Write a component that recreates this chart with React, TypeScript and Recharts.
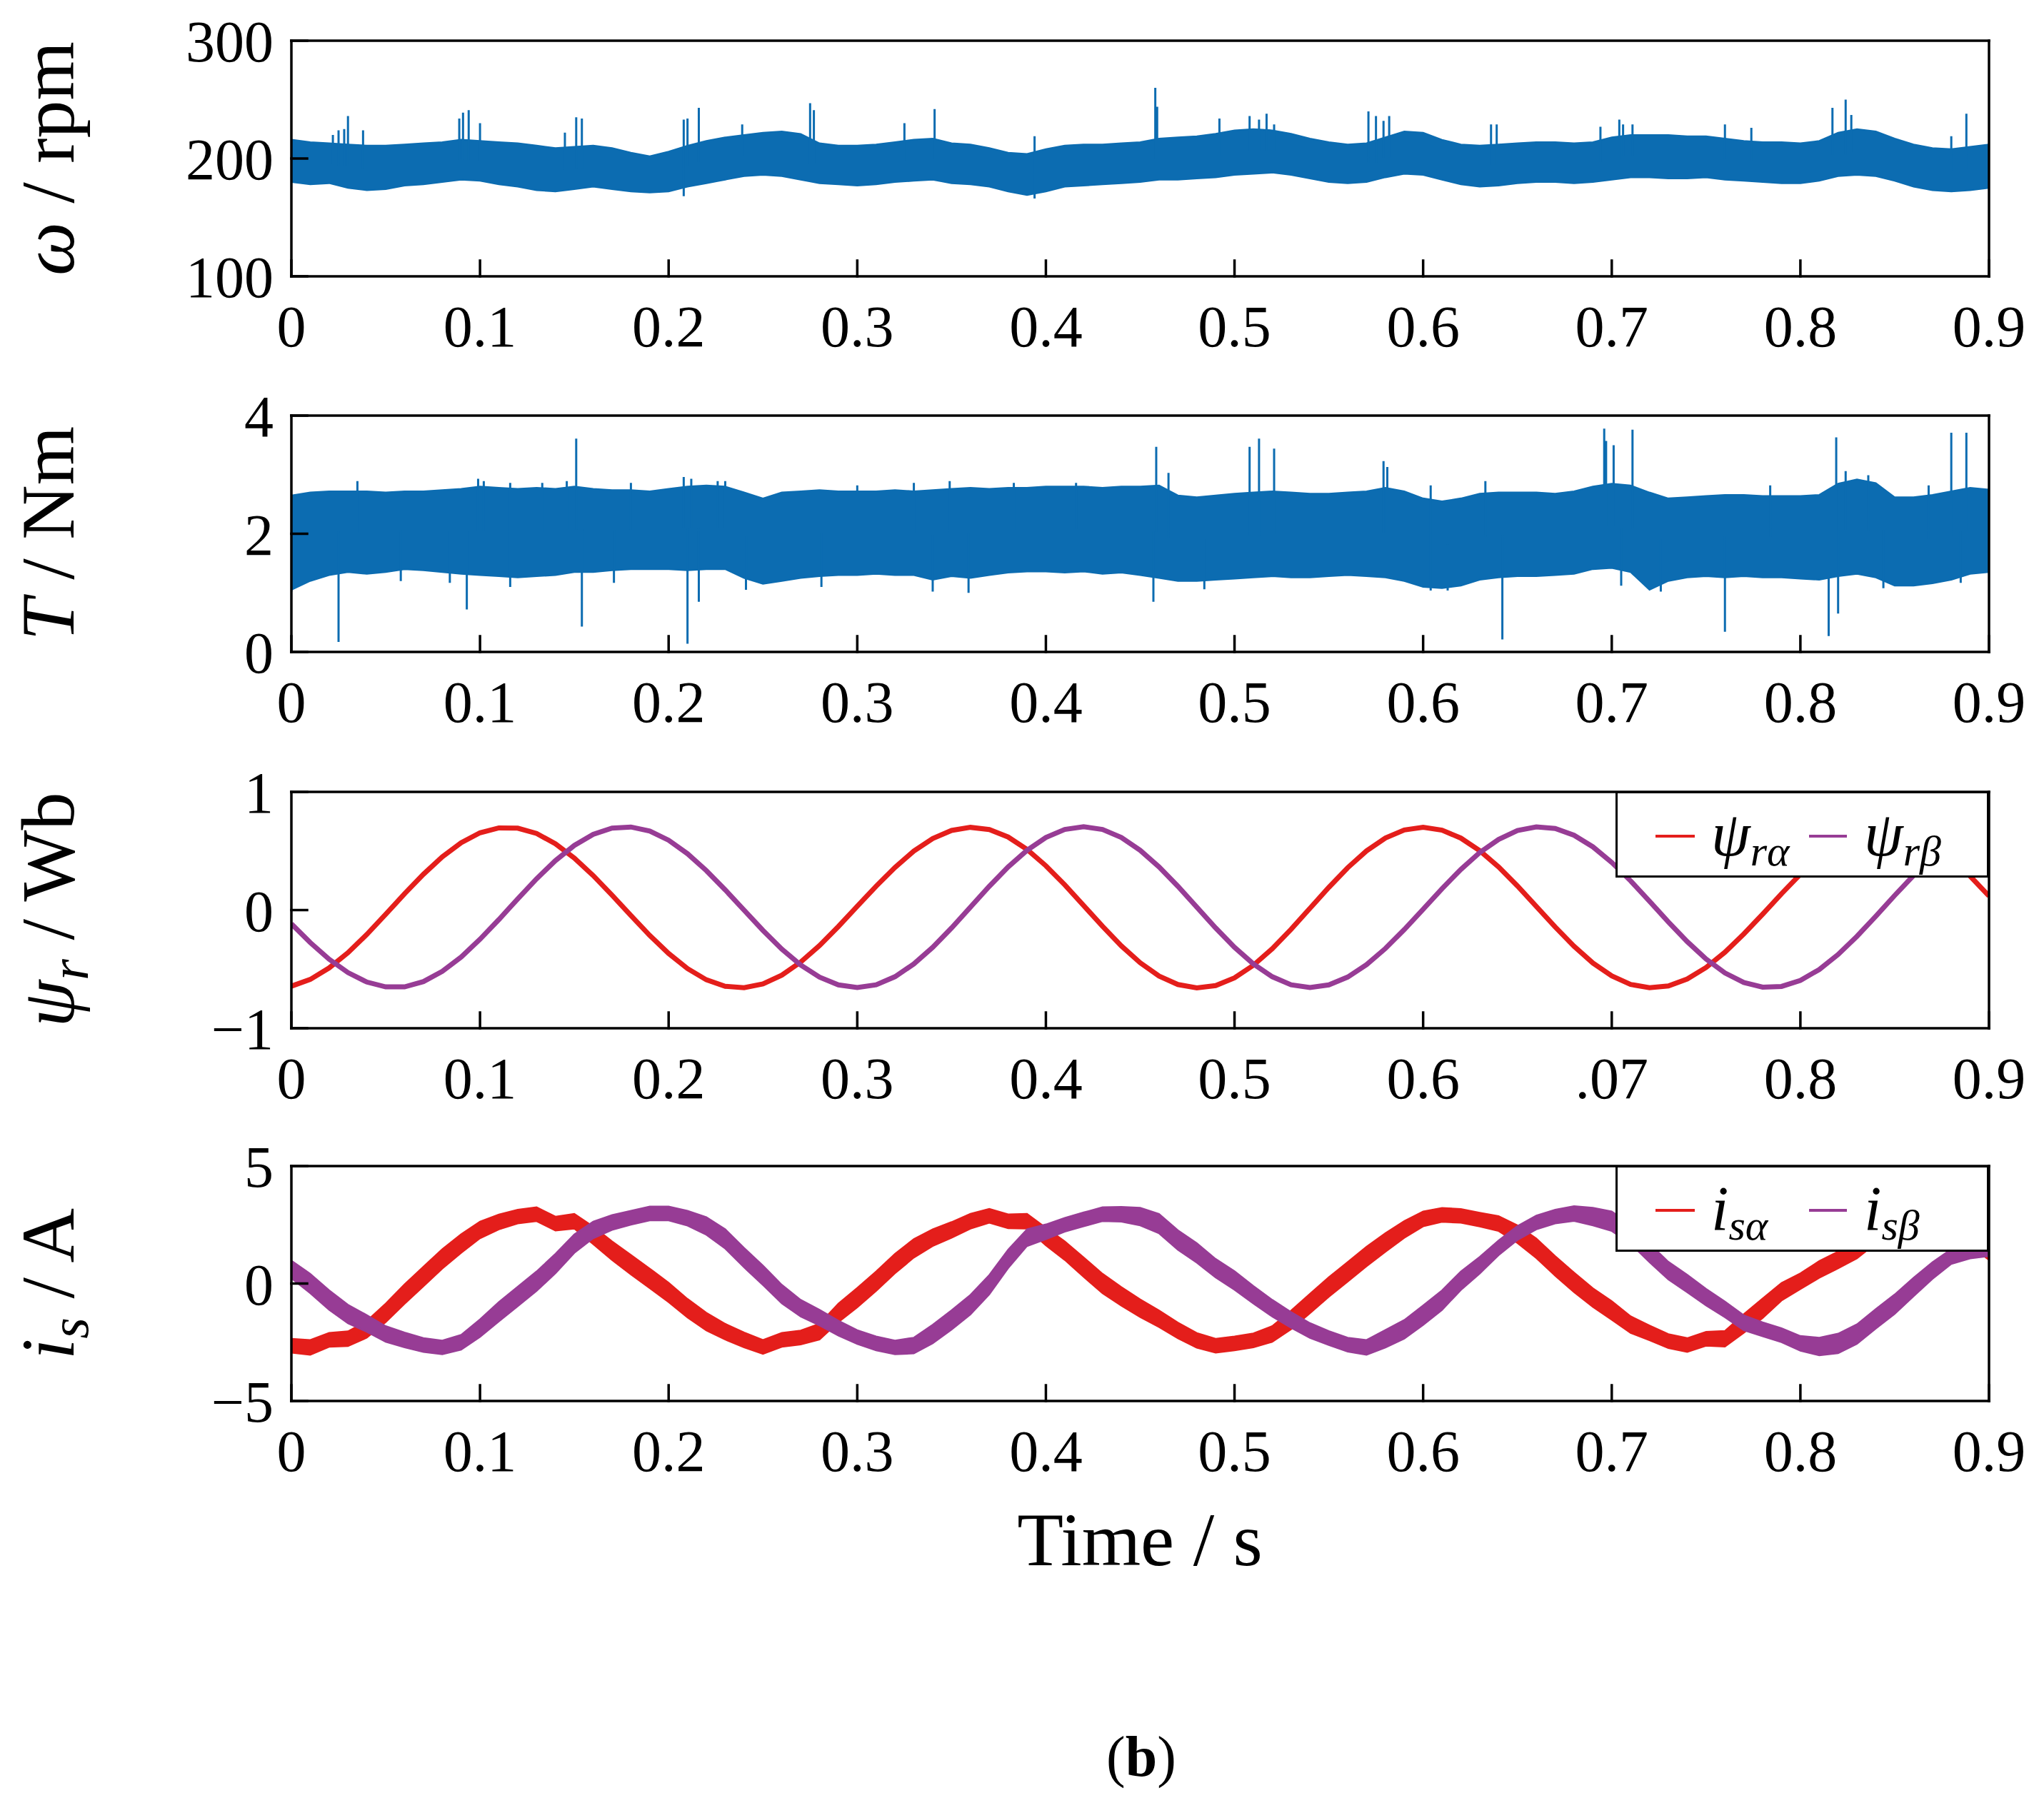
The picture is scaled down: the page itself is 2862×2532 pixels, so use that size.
import React from "react";
import { ComposedChart, Area, Line, XAxis, YAxis, Legend } from "recharts";

const SERIF = '"Liberation Serif", "Times New Roman", Times, serif';
const BLUE = "#0c6cb1";
const RED = "#e41e1b";
const PURPLE = "#973c95";

const PAGE_W = 2862;
const PAGE_H = 2532;
const PLOT_H = 330;
const STEP = 0.01; // traces were read every 10 ms

const timeTicks = [0, 0.1, 0.2, 0.3, 0.4, 0.5, 0.6, 0.7, 0.8, 0.9];
const timeLabels = ["0", "0.1", "0.2", "0.3", "0.4", "0.5", "0.6", "0.7", "0.8", "0.9"];
// the flux panel really is labelled ".07" in the original figure
const fluxTimeLabels = ["0", "0.1", "0.2", "0.3", "0.4", "0.5", "0.6", ".07", "0.8", "0.9"];

const speedTicks = [100, 200, 300];
const speedLabels = ["100", "200", "300"];
const torqueTicks = [0, 2, 4];
const torqueLabels = ["0", "2", "4"];
const fluxTicks = [-1, 0, 1];
const fluxLabels = ["\u22121", "0", "1"];
const currentTicks = [-5, 0, 5];
const currentLabels = ["\u22125", "0", "5"];

// speed band (rpm), upper / lower envelope
const omegaHi = [
  216, 214, 213, 212, 211, 211, 212, 213, 214, 216,
  215, 214, 213, 211, 209, 210, 211, 209, 205, 202,
  206, 211, 215, 218, 220, 222, 223, 221, 213, 211,
  211, 212, 214, 216, 217, 213, 212, 209, 205, 204,
  208, 211, 212, 212, 213, 214, 217, 218, 219, 221,
  224, 225, 224, 221, 217, 214, 212, 213, 218, 223,
  222, 216, 212, 211, 212, 213, 214, 214, 213, 214,
  218, 220, 220, 220, 219, 219, 217, 215, 214, 214,
  213, 215, 222, 225, 223, 217, 212, 209, 208, 210,
  212,
];
const omegaLo = [
  180, 178, 179, 175, 173, 174, 177, 178, 180, 182,
  181, 178, 176, 173, 172, 174, 176, 174, 172, 171,
  172, 176, 179, 182, 185, 186, 185, 182, 179, 178,
  177, 178, 180, 181, 182, 179, 178, 176, 172, 169,
  172, 176, 177, 178, 179, 180, 182, 182, 183, 184,
  186, 187, 188, 186, 183, 180, 179, 180, 184, 187,
  186, 182, 178, 176, 177, 179, 180, 180, 179, 180,
  182, 184, 184, 183, 183, 184, 182, 181, 180, 179,
  179, 181, 185, 186, 185, 181, 176, 173, 172, 173,
  175,
];
const omegaSpikes = [
  [0.022, 220], [0.025, 224], [0.028, 225], [0.03, 236], [0.038, 224],
  [0.089, 234], [0.091, 239], [0.094, 241], [0.1, 230], [0.145, 222],
  [0.151, 235], [0.154, 234], [0.208, 233], [0.208, 168], [0.21, 234],
  [0.216, 243], [0.239, 229], [0.275, 247], [0.277, 241], [0.325, 230],
  [0.341, 242], [0.394, 219], [0.394, 166], [0.458, 260], [0.459, 244],
  [0.492, 234], [0.508, 236], [0.513, 233], [0.517, 238], [0.521, 229],
  [0.571, 240], [0.575, 236], [0.579, 232], [0.582, 236], [0.636, 229],
  [0.639, 229], [0.694, 227], [0.704, 233], [0.706, 229], [0.711, 229],
  [0.76, 229], [0.774, 226], [0.817, 243], [0.824, 250], [0.827, 237],
  [0.88, 219], [0.888, 238],
];

// torque band (Nm)
const torqueHi = [
  2.65, 2.7, 2.72, 2.72, 2.72, 2.7, 2.72, 2.72, 2.74, 2.76,
  2.8, 2.78, 2.76, 2.78, 2.76, 2.8, 2.76, 2.74, 2.74, 2.72,
  2.76, 2.8, 2.82, 2.8, 2.7, 2.6, 2.7, 2.72, 2.74, 2.72,
  2.72, 2.72, 2.74, 2.72, 2.74, 2.76, 2.78, 2.76, 2.78, 2.78,
  2.8, 2.8, 2.8, 2.78, 2.8, 2.8, 2.82, 2.65, 2.62, 2.65,
  2.68, 2.7, 2.72, 2.7, 2.68, 2.68, 2.7, 2.72, 2.78, 2.72,
  2.6, 2.55, 2.6, 2.68, 2.7, 2.7, 2.7, 2.68, 2.72, 2.8,
  2.85, 2.82, 2.7, 2.6, 2.62, 2.64, 2.66, 2.66, 2.64, 2.64,
  2.64, 2.66, 2.85, 2.92, 2.86, 2.62, 2.62, 2.66, 2.72, 2.78,
  2.75,
];
const torqueLo = [
  1.05, 1.2, 1.3, 1.35, 1.32, 1.35, 1.4, 1.38, 1.35, 1.32,
  1.3, 1.28, 1.26, 1.28, 1.3, 1.35, 1.35, 1.38, 1.4, 1.4,
  1.4, 1.38, 1.4, 1.4, 1.25, 1.15, 1.2, 1.25, 1.28, 1.3,
  1.3, 1.32, 1.3, 1.3, 1.22, 1.28, 1.25, 1.3, 1.34, 1.36,
  1.36, 1.34, 1.36, 1.32, 1.34, 1.3, 1.25, 1.2, 1.2, 1.22,
  1.24, 1.26, 1.28, 1.26, 1.26, 1.28, 1.3, 1.28, 1.26, 1.2,
  1.1, 1.08, 1.12, 1.22, 1.26, 1.28, 1.28, 1.3, 1.32, 1.4,
  1.42, 1.35, 1.05, 1.2, 1.26, 1.28, 1.26, 1.28, 1.26, 1.26,
  1.24, 1.22, 1.28, 1.32, 1.26, 1.12, 1.12, 1.16, 1.22, 1.32,
  1.35,
];
const torqueSpikes = [
  [0.0, 1.02], [0.025, 0.17], [0.035, 2.89], [0.058, 1.2], [0.084, 1.17],
  [0.093, 0.72], [0.099, 2.93], [0.102, 2.89], [0.116, 2.86], [0.116, 1.1],
  [0.133, 2.86], [0.146, 2.89], [0.151, 3.61], [0.154, 0.43], [0.171, 1.17],
  [0.18, 2.86], [0.208, 2.96], [0.21, 0.14], [0.212, 2.93], [0.216, 0.85],
  [0.226, 2.89], [0.23, 2.89], [0.241, 1.05], [0.281, 1.1], [0.3, 2.82],
  [0.33, 2.86], [0.34, 1.02], [0.349, 2.89], [0.359, 1.0], [0.383, 2.86],
  [0.416, 2.86], [0.457, 0.85], [0.4585, 3.47], [0.465, 3.03], [0.484, 1.06],
  [0.508, 3.47], [0.513, 3.61], [0.521, 3.44], [0.579, 3.23], [0.581, 3.13],
  [0.604, 2.82], [0.604, 1.04], [0.613, 1.04], [0.633, 2.89], [0.642, 0.21],
  [0.696, 3.78], [0.697, 3.57], [0.701, 3.5], [0.705, 1.12], [0.711, 3.76],
  [0.726, 1.02], [0.76, 0.34], [0.784, 2.82], [0.815, 0.27], [0.819, 3.63],
  [0.82, 0.65], [0.824, 3.06], [0.836, 2.99], [0.844, 1.08], [0.868, 2.82],
  [0.88, 3.71], [0.885, 1.17], [0.888, 3.71],
];

// rotor flux (Wb)
const psiAlpha = [
  -0.644, -0.587, -0.49, -0.361, -0.206, -0.036, 0.138, 0.303, 0.451, 0.57,
  0.654, 0.695, 0.693, 0.648, 0.561, 0.44, 0.292, 0.126, -0.046, -0.215,
  -0.367, -0.495, -0.59, -0.645, -0.657, -0.625, -0.551, -0.44, -0.3, -0.139,
  0.032, 0.202, 0.361, 0.499, 0.605, 0.674, 0.7, 0.681, 0.618, 0.513,
  0.375, 0.214, 0.039, -0.137, -0.303, -0.446, -0.558, -0.63, -0.658, -0.639,
  -0.574, -0.467, -0.327, -0.162, 0.015, 0.192, 0.358, 0.501, 0.61, 0.678,
  0.7, 0.676, 0.609, 0.503, 0.365, 0.204, 0.031, -0.143, -0.306, -0.448,
  -0.557, -0.629, -0.657, -0.642, -0.583, -0.486, -0.357, -0.202, -0.035, 0.138,
  0.303, 0.448, 0.568, 0.651, 0.695, 0.695, 0.649, 0.562, 0.438, 0.287,
  0.118,
];
const psiBeta = [
  -0.116, -0.275, -0.416, -0.529, -0.609, -0.65, -0.65, -0.605, -0.519, -0.397,
  -0.247, -0.08, 0.095, 0.265, 0.419, 0.547, 0.641, 0.694, 0.703, 0.668,
  0.591, 0.477, 0.334, 0.171, -0.001, -0.172, -0.33, -0.465, -0.568, -0.633,
  -0.655, -0.632, -0.564, -0.456, -0.315, -0.151, 0.025, 0.201, 0.365, 0.506,
  0.614, 0.682, 0.705, 0.682, 0.614, 0.506, 0.365, 0.201, 0.025, -0.151,
  -0.315, -0.456, -0.564, -0.632, -0.655, -0.633, -0.567, -0.462, -0.325, -0.165,
  0.007, 0.181, 0.344, 0.487, 0.598, 0.673, 0.704, 0.691, 0.633, 0.535,
  0.403, 0.247, 0.075, -0.1, -0.267, -0.414, -0.532, -0.613, -0.652, -0.646,
  -0.595, -0.503, -0.376, -0.222, -0.052, 0.124, 0.293, 0.445, 0.568, 0.654,
  0.7,
];

// stator current (A): centre of the noisy trace and half-height of its band
const isAlpha = [
  -2.65, -2.72, -2.4, -2.35, -1.95, -1.25, -0.45, 0.3, 1.05, 1.7,
  2.28, 2.62, 2.85, 2.95, 2.55, 2.65, 2.05, 1.4, 0.8, 0.22,
  -0.38, -1.05, -1.62, -2.05, -2.4, -2.7, -2.4, -2.3, -2.05, -1.25,
  -0.6, 0.1, 0.85, 1.5, 1.95, 2.28, 2.65, 2.88, 2.65, 2.65,
  2.0, 1.4, 0.7, 0.0, -0.55, -1.05, -1.5, -2.0, -2.42, -2.65,
  -2.55, -2.42, -2.15, -1.55, -0.85, -0.15, 0.5, 1.15, 1.75, 2.3,
  2.75, 2.92, 2.88, 2.72, 2.55, 2.1, 1.5, 0.75, 0.05, -0.6,
  -1.15, -1.75, -2.1, -2.45, -2.62, -2.35, -2.35, -1.7, -1.05, -0.35,
  0.1, 0.6, 1.0, 1.45, 2.1, 2.6, 2.9, 2.95, 2.55, 2.0,
  1.4,
];
const isAlphaSpread = [
  0.3, 0.32, 0.3, 0.32, 0.36, 0.4, 0.42, 0.42, 0.42, 0.4,
  0.36, 0.32, 0.3, 0.3, 0.3, 0.32, 0.38, 0.4, 0.42, 0.42,
  0.42, 0.4, 0.38, 0.34, 0.32, 0.3, 0.3, 0.3, 0.34, 0.4,
  0.42, 0.42, 0.42, 0.4, 0.36, 0.34, 0.32, 0.3, 0.3, 0.32,
  0.38, 0.4, 0.42, 0.42, 0.4, 0.38, 0.36, 0.34, 0.32, 0.3,
  0.3, 0.3, 0.34, 0.4, 0.42, 0.42, 0.42, 0.42, 0.4, 0.36,
  0.32, 0.3, 0.3, 0.3, 0.32, 0.38, 0.42, 0.42, 0.42, 0.4,
  0.4, 0.36, 0.32, 0.3, 0.3, 0.3, 0.34, 0.4, 0.42, 0.38,
  0.34, 0.36, 0.36, 0.38, 0.4, 0.36, 0.32, 0.3, 0.32, 0.38,
  0.4,
];
const isBeta = [
  0.6, 0.0, -0.7, -1.3, -1.7, -2.15, -2.4, -2.62, -2.72, -2.5,
  -1.9, -1.2, -0.55, 0.1, 0.85, 1.7, 2.28, 2.6, 2.8, 2.98,
  2.98, 2.78, 2.45, 1.9, 1.1, 0.35, -0.45, -1.05, -1.45, -1.9,
  -2.28, -2.55, -2.72, -2.64, -2.15, -1.55, -0.9, -0.05, 1.05, 1.95,
  2.2, 2.5, 2.73, 2.95, 2.95, 2.85, 2.55, 1.85, 1.3, 0.65,
  0.13, -0.48, -1.05, -1.55, -2.0, -2.32, -2.6, -2.72, -2.35, -1.95,
  -1.35, -0.71, 0.12, 0.78, 1.52, 2.15, 2.6, 2.85, 2.98, 2.85,
  2.65, 2.1, 1.3, 0.55, 0.0, -0.58, -1.1, -1.67, -1.95, -2.2,
  -2.55, -2.68, -2.55, -2.15, -1.5, -0.88, -0.15, 0.55, 1.15, 1.36,
  1.46,
];
const isBetaSpread = [
  0.38, 0.42, 0.42, 0.4, 0.36, 0.34, 0.32, 0.3, 0.3, 0.32,
  0.38, 0.42, 0.42, 0.42, 0.42, 0.4, 0.36, 0.32, 0.3, 0.3,
  0.3, 0.32, 0.38, 0.42, 0.42, 0.42, 0.4, 0.36, 0.34, 0.32,
  0.3, 0.3, 0.3, 0.34, 0.4, 0.42, 0.42, 0.42, 0.4, 0.36,
  0.32, 0.3, 0.3, 0.3, 0.32, 0.38, 0.42, 0.42, 0.42, 0.4,
  0.4, 0.38, 0.36, 0.34, 0.32, 0.3, 0.3, 0.32, 0.38, 0.4,
  0.42, 0.42, 0.4, 0.36, 0.32, 0.3, 0.3, 0.3, 0.32, 0.38,
  0.42, 0.42, 0.4, 0.38, 0.38, 0.36, 0.34, 0.32, 0.3, 0.3,
  0.32, 0.38, 0.42, 0.42, 0.42, 0.42, 0.4, 0.36, 0.32, 0.3,
  0.3,
];

const sampleTime = (i: number) => Math.round(i * STEP * 100) / 100;

const speedRows = omegaLo.map((lo, i) => ({ t: sampleTime(i), band: [lo, omegaHi[i]] }));
const torqueRows = torqueLo.map((lo, i) => ({ t: sampleTime(i), band: [lo, torqueHi[i]] }));
const fluxRows = psiAlpha.map((a, i) => ({ t: sampleTime(i), alpha: a, beta: psiBeta[i] }));
const currentRows = isAlpha.map((a, i) => ({
  t: sampleTime(i),
  alpha: [a - isAlphaSpread[i], a + isAlphaSpread[i]],
  beta: [isBeta[i] - isBetaSpread[i], isBeta[i] + isBetaSpread[i]],
}));

// each spike is a vertical stroke from the middle of the band out to its tip
function spikeRows(spikes: number[][], lo: number[], hi: number[]) {
  const rows: { t: number; v: number | null }[] = [];
  spikes.forEach(([t, tip]) => {
    const i = Math.round(t / STEP);
    rows.push({ t, v: (lo[i] + hi[i]) / 2 }, { t, v: tip }, { t, v: null });
  });
  return rows;
}
const speedSpikeRows = spikeRows(omegaSpikes, omegaLo, omegaHi);
const torqueSpikeRows = spikeRows(torqueSpikes, torqueLo, torqueHi);

const frame = { stroke: "#000", strokeWidth: 3.5, strokeLinecap: "square" as const };
const tickFont = { fontSize: 82, fill: "#000", fontFamily: SERIF };

function YTitle({ x, y, children }: { x: number; y: number; children: React.ReactNode }) {
  return (
    <text
      x={x}
      y={y}
      transform={`rotate(-90 ${x} ${y})`}
      textAnchor="middle"
      fontFamily={SERIF}
      fontSize={106}
      fill="#000"
      style={{ whiteSpace: "pre" }}
    >
      {children}
    </text>
  );
}

function LegendBox({ symbol, subA, subB }: { symbol: string; subA: string; subB: string }) {
  const item = (left: number, sub: string) => (
    <div
      style={{
        position: "absolute",
        left,
        top: 14,
        fontFamily: SERIF,
        fontStyle: "italic",
        fontSize: 88,
        lineHeight: 1,
        whiteSpace: "nowrap",
        color: "#000",
      }}
    >
      {symbol}
      <span style={{ fontSize: 60, position: "relative", top: 14 }}>{sub}</span>
    </div>
  );
  return (
    <div
      style={{
        position: "relative",
        width: 523,
        height: 121,
        boxSizing: "border-box",
        border: "3.5px solid #000",
        background: "#fff",
      }}
    >
      <svg width={516} height={114} style={{ position: "absolute", left: 0, top: 0 }}>
        <line x1={53} x2={108} y1={60} y2={60} stroke={RED} strokeWidth={4} />
        <line x1={268} x2={321} y1={60} y2={60} stroke={PURPLE} strokeWidth={4} />
      </svg>
      {item(131, subA)}
      {item(345, subB)}
    </div>
  );
}

type PanelProps = {
  top: number;
  height: number;
  marginTop: number;
  marginBottom: number;
  data: object[];
  yDomain: [number, number];
  yTicks: number[];
  yLabels: string[];
  xLabels: string[];
  yTitle: React.ReactNode;
  xTitle?: () => React.ReactNode;
  legend?: React.ReactNode;
  children: React.ReactNode;
};

function Panel(p: PanelProps) {
  const plotTop = p.marginTop + 1;
  const plotMid = plotTop + PLOT_H / 2;
  return (
    <div style={{ position: "absolute", left: 0, top: p.top }}>
      <ComposedChart
        width={PAGE_W}
        height={p.height}
        data={p.data}
        margin={{ top: p.marginTop, right: 76, bottom: p.marginBottom, left: 308 }}
      >
        <XAxis
          dataKey="t"
          type="number"
          domain={[0, 0.9]}
          allowDataOverflow
          ticks={timeTicks}
          interval={0}
          tickFormatter={(v: number) => p.xLabels[timeTicks.indexOf(v)]}
          height={130}
          tickSize={-22}
          tickMargin={62}
          axisLine={frame}
          tickLine={frame}
          tick={tickFont}
          label={p.xTitle}
        />
        <XAxis
          xAxisId="top"
          orientation="top"
          type="number"
          domain={[0, 0.9]}
          allowDataOverflow
          ticks={timeTicks}
          interval={0}
          height={1}
          tickSize={-22}
          tick={false}
          axisLine={frame}
          tickLine={frame}
        />
        <YAxis
          type="number"
          domain={p.yDomain}
          allowDataOverflow
          ticks={p.yTicks}
          interval={0}
          tickFormatter={(v: number) => p.yLabels[p.yTicks.indexOf(v)]}
          width={100}
          tickSize={-22}
          tickMargin={47}
          axisLine={frame}
          tickLine={frame}
          tick={tickFont}
          label={() => (
            <YTitle x={103} y={plotMid}>
              {p.yTitle}
            </YTitle>
          )}
        />
        <YAxis
          yAxisId="right"
          orientation="right"
          type="number"
          domain={p.yDomain}
          allowDataOverflow
          ticks={p.yTicks}
          interval={0}
          width={1}
          tickSize={-22}
          tick={false}
          axisLine={frame}
          tickLine={frame}
        />
        {p.children}
        {p.legend ? (
          <Legend
            layout="vertical"
            align="center"
            verticalAlign="middle"
            wrapperStyle={{ left: 2262, top: plotTop - 1, width: 523, height: 121 }}
            content={() => p.legend}
          />
        ) : null}
      </ComposedChart>
    </div>
  );
}

export default function App() {
  return (
    <div style={{ position: "relative", width: PAGE_W, height: PAGE_H, background: "#fff" }}>
      <style>{"body{margin:0;background:#fff;}"}</style>

      <Panel
        top={0}
        height={517}
        marginTop={56}
        marginBottom={0}
        data={speedRows}
        yDomain={[100, 300]}
        yTicks={speedTicks}
        yLabels={speedLabels}
        xLabels={timeLabels}
        yTitle={
          <>
            <tspan fontStyle="italic">ω</tspan>
            <tspan> / rpm</tspan>
          </>
        }
      >
        {[
          <Area
            key="band"
            dataKey="band"
            type="linear"
            stroke={BLUE}
            strokeWidth={2}
            fill={BLUE}
            fillOpacity={1}
            dot={false}
            activeDot={false}
            isAnimationActive={false}
          />,
          <Line
            key="spikes"
            data={speedSpikeRows}
            dataKey="v"
            type="linear"
            stroke={BLUE}
            strokeWidth={3}
            dot={false}
            activeDot={false}
            connectNulls={false}
            isAnimationActive={false}
          />,
        ]}
      </Panel>

      <Panel
        top={520}
        height={523}
        marginTop={61}
        marginBottom={0}
        data={torqueRows}
        yDomain={[0, 4]}
        yTicks={torqueTicks}
        yLabels={torqueLabels}
        xLabels={timeLabels}
        yTitle={
          <>
            <tspan fontStyle="italic">T</tspan>
            <tspan> / Nm</tspan>
          </>
        }
      >
        {[
          <Area
            key="band"
            dataKey="band"
            type="linear"
            stroke={BLUE}
            strokeWidth={2}
            fill={BLUE}
            fillOpacity={1}
            dot={false}
            activeDot={false}
            isAnimationActive={false}
          />,
          <Line
            key="spikes"
            data={torqueSpikeRows}
            dataKey="v"
            type="linear"
            stroke={BLUE}
            strokeWidth={3}
            dot={false}
            activeDot={false}
            connectNulls={false}
            isAnimationActive={false}
          />,
        ]}
      </Panel>

      <Panel
        top={1040}
        height={530}
        marginTop={68}
        marginBottom={0}
        data={fluxRows}
        yDomain={[-1, 1]}
        yTicks={fluxTicks}
        yLabels={fluxLabels}
        xLabels={fluxTimeLabels}
        yTitle={
          <>
            <tspan fontStyle="italic">ψ</tspan>
            <tspan fontStyle="italic" fontSize={76} dy={20}>r</tspan>
            <tspan dy={-20}> / Wb</tspan>
          </>
        }
        legend={<LegendBox symbol="ψ" subA="rα" subB="rβ" />}
      >
        {[
          <Line
            key="alpha"
            dataKey="alpha"
            type="linear"
            stroke={RED}
            strokeWidth={7}
            dot={false}
            activeDot={false}
            isAnimationActive={false}
          />,
          <Line
            key="beta"
            dataKey="beta"
            type="linear"
            stroke={PURPLE}
            strokeWidth={7}
            dot={false}
            activeDot={false}
            isAnimationActive={false}
          />,
        ]}
      </Panel>

      <Panel
        top={1560}
        height={972}
        marginTop={72}
        marginBottom={440}
        data={currentRows}
        yDomain={[-5, 5]}
        yTicks={currentTicks}
        yLabels={currentLabels}
        xLabels={timeLabels}
        yTitle={
          <>
            <tspan fontStyle="italic">i</tspan>
            <tspan fontStyle="italic" fontSize={76} dy={20}>s</tspan>
            <tspan dy={-20}> / A</tspan>
          </>
        }
        xTitle={() => (
          <g>
            <text
              x={1596}
              y={632}
              textAnchor="middle"
              fontFamily={SERIF}
              fontSize={106}
              fill="#000"
              style={{ whiteSpace: "pre" }}
            >
              Time / s
            </text>
            <text x={1598} y={927} textAnchor="middle" fontFamily={SERIF} fontSize={80} fill="#000">
              (<tspan fontWeight="bold">b</tspan>)
            </text>
          </g>
        )}
        legend={<LegendBox symbol="i" subA="sα" subB="sβ" />}
      >
        {[
          <Area
            key="alpha"
            dataKey="alpha"
            type="linear"
            stroke={RED}
            strokeWidth={2}
            fill={RED}
            fillOpacity={1}
            dot={false}
            activeDot={false}
            isAnimationActive={false}
          />,
          <Area
            key="beta"
            dataKey="beta"
            type="linear"
            stroke={PURPLE}
            strokeWidth={2}
            fill={PURPLE}
            fillOpacity={1}
            dot={false}
            activeDot={false}
            isAnimationActive={false}
          />,
        ]}
      </Panel>
    </div>
  );
}
